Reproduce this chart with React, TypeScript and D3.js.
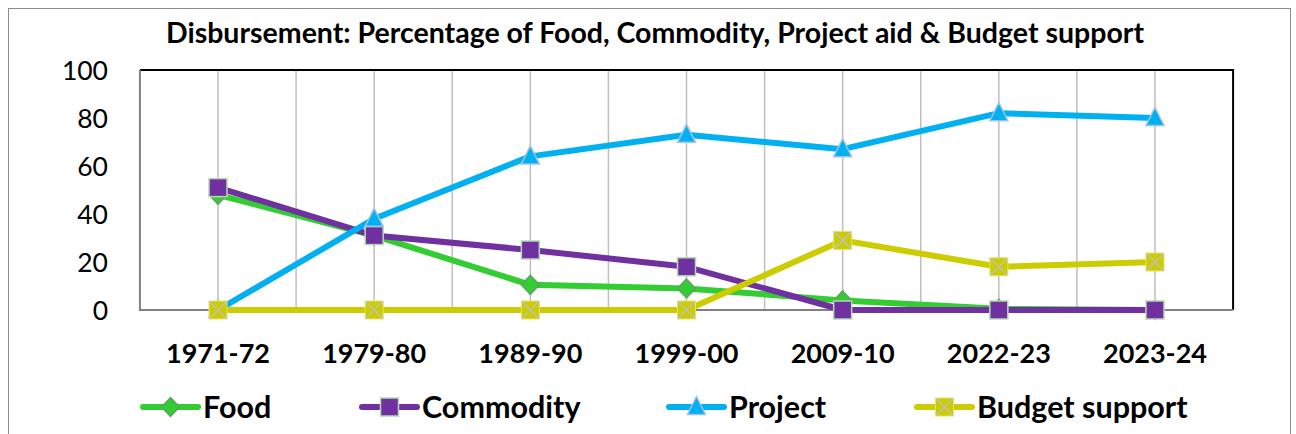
import React, { useRef, useEffect } from 'react';
import * as d3 from 'd3';

// years on the x axis
const years = ['1971-72', '1979-80', '1989-90', '1999-00', '2009-10', '2022-23', '2023-24'];

// percentage shares
const food = [48, 31, 10.5, 9, 4, 0.5, 0];
const commodity = [51, 31, 25, 18, 0, 0, 0];
const project = [0, 38, 64, 73, 67, 82, 80];
const budget = [0, 0, 0, 0, 29, 18, 20];

const yTicks = [0, 20, 40, 60, 80, 100];

const SERIES = [
  { name: 'Food', values: food, color: '#33CC33', stroke: '#5FA35F', marker: 'diamond' },
  { name: 'Commodity', values: commodity, color: '#7030A0', stroke: '#B4D8B4', marker: 'square' },
  { name: 'Project', values: project, color: '#00B0F0', stroke: '#9DC3E6', marker: 'triangle' },
  { name: 'Budget support', values: budget, color: '#CCCC00', stroke: '#BFBFBF', marker: 'xsquare' },
];

const FONT = 'Lato, "Open Sans", sans-serif';

const drawMarker = (g, type, x, y, fill, stroke) => {
  if (type === 'diamond') {
    g.append('path')
      .attr('d', `M${x},${y - 9.5}L${x + 9},${y}L${x},${y + 9.5}L${x - 9},${y}Z`)
      .attr('fill', fill).attr('stroke', stroke).attr('stroke-width', 1.5);
  } else if (type === 'square') {
    g.append('rect')
      .attr('x', x - 9).attr('y', y - 9).attr('width', 18).attr('height', 18)
      .attr('fill', fill).attr('stroke', stroke).attr('stroke-width', 1.5);
  } else if (type === 'triangle') {
    g.append('path')
      .attr('d', `M${x},${y - 10.5}L${x + 9},${y + 7.5}L${x - 9},${y + 7.5}Z`)
      .attr('fill', fill).attr('stroke', stroke).attr('stroke-width', 1.5);
  } else {
    g.append('rect')
      .attr('x', x - 9).attr('y', y - 9).attr('width', 18).attr('height', 18)
      .attr('fill', fill).attr('stroke', '#E2E27A').attr('stroke-width', 1);
    g.append('path')
      .attr('d', `M${x - 8},${y - 8}L${x + 8},${y + 8}M${x + 8},${y - 8}L${x - 8},${y + 8}`)
      .attr('stroke', stroke).attr('stroke-width', 1.5);
  }
};

const App = () => {
  const svgRef = useRef(null);
  const width = 1296;
  const height = 434;

  useEffect(() => {
    const svg = d3.select(svgRef.current);
    svg.selectAll('*').remove();

    const x = d3.scalePoint().domain(years).range([218, 1155]);
    const step = x.step();
    const y = d3.scaleLinear().domain([0, 100]).range([310, 70]);
    const left = x(years[0]) - step / 2;
    const right = x(years[years.length - 1]) + step / 2;

    // outer chart frame
    svg.append('rect')
      .attr('x', 8.5).attr('y', 8.5).attr('width', 1282).attr('height', 440)
      .attr('fill', 'white').attr('stroke', '#8C8C8C').attr('stroke-width', 1);

    svg.append('text')
      .attr('x', 655).attr('y', 43)
      .attr('text-anchor', 'middle')
      .style('font-family', FONT).style('font-weight', 'bold').style('font-size', '28.5px')
      .text('Disbursement: Percentage of Food, Commodity, Project aid & Budget support');

    // vertical gridlines at categories and between them
    const gridX = [];
    years.forEach((yr, i) => {
      gridX.push(x(yr));
      if (i < years.length - 1) gridX.push(x(yr) + step / 2);
    });
    svg.append('g').selectAll('line')
      .data(gridX)
      .join('line')
      .attr('x1', d => d).attr('x2', d => d)
      .attr('y1', y(100)).attr('y2', y(0))
      .attr('stroke', '#BFBFBF').attr('stroke-width', 1.5);

    // plot border: top and right black, axis lines grey
    svg.append('path')
      .attr('d', `M${left},${y(100)}H${right}V${y(0)}`)
      .attr('fill', 'none').attr('stroke', 'black').attr('stroke-width', 2);
    svg.append('path')
      .attr('d', `M${left},${y(100)}V${y(0)}H${right}`)
      .attr('fill', 'none').attr('stroke', '#808080').attr('stroke-width', 2);

    // y tick labels
    svg.append('g').selectAll('text')
      .data(yTicks)
      .join('text')
      .attr('x', 108).attr('y', d => y(d))
      .attr('dy', '0.36em')
      .attr('text-anchor', 'end')
      .style('font-family', FONT).style('font-size', '26.5px')
      .text(d => d);

    // x tick labels
    svg.append('g').selectAll('text')
      .data(years)
      .join('text')
      .attr('x', d => x(d)).attr('y', 353)
      .attr('dy', '0.36em')
      .attr('text-anchor', 'middle')
      .style('font-family', FONT).style('font-weight', 'bold').style('font-size', '27px')
      .text(d => d);

    const line = d3.line()
      .x((d, i) => x(years[i]))
      .y(d => y(d));

    SERIES.forEach(s => {
      svg.append('path')
        .datum(s.values)
        .attr('d', line)
        .attr('fill', 'none')
        .attr('stroke', s.color)
        .attr('stroke-width', 6)
        .attr('stroke-linejoin', 'round');
    });
    SERIES.forEach(s => {
      const g = svg.append('g');
      s.values.forEach((v, i) => drawMarker(g, s.marker, x(years[i]), y(v), s.color, s.stroke));
    });

    // legend
    const legendX = [143, 362, 669, 917];
    SERIES.forEach((s, i) => {
      const g = svg.append('g').attr('transform', `translate(${legendX[i]},407)`);
      g.append('line')
        .attr('x1', 0).attr('x2', 55).attr('y1', 0).attr('y2', 0)
        .attr('stroke', s.color).attr('stroke-width', 6).attr('stroke-linecap', 'round');
      drawMarker(g, s.marker, 27.5, 0, s.color, s.stroke);
      g.append('text')
        .attr('x', 60).attr('y', 0).attr('dy', '0.36em')
        .style('font-family', FONT).style('font-weight', 'bold').style('font-size', '30.5px')
        .text(s.name);
    });
  }, []);

  return (
    <svg ref={svgRef} width={width} height={height}
      style={{ position: 'absolute', left: 0, top: 0 }} />
  );
};

export default App;
